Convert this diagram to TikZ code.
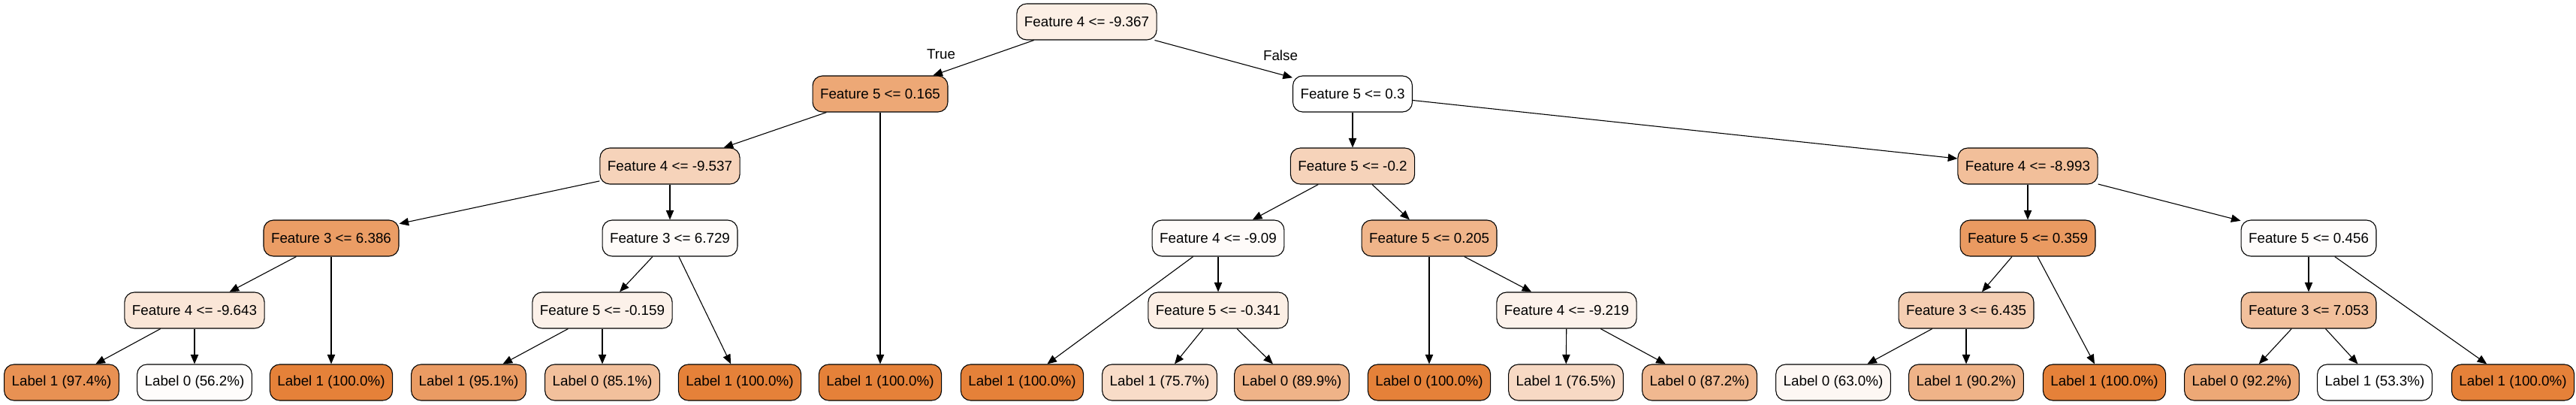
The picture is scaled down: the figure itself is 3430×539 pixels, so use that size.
\documentclass[tikz,border=0pt]{standalone}
\usepackage{fontspec}
\setmainfont{Liberation Sans}
\usetikzlibrary{arrows.meta}
\definecolor{gini}{HTML}{E58139}

\begin{document}
\begin{tikzpicture}[x=0.5pt,y=0.5pt,yscale=-1,
    tnode/.style={draw, line width=0.55pt, rounded corners=6.5pt, fill=gini!#1,
      minimum height=24pt, inner xsep=5pt, font=\fontsize{9.4}{11}\selectfont},
    link/.style={line width=0.55pt, -{Triangle[length=6.3pt,width=5.2pt]}},
    lbl/.style={font=\fontsize{9.4}{11}\selectfont},
  ]
  \useasboundingbox (0,0) rectangle (3430,539);
  \node[tnode=13] (n0)  at (1447,29)  {Feature 4 <= -9.367};
  \node[tnode=69] (n1)  at (1172,125) {Feature 5 <= 0.165};
  \node[tnode=35] (n2)  at (892,221)  {Feature 4 <= -9.537};
  \node[tnode=78] (n3)  at (441,317)  {Feature 3 <= 6.386};
  \node[tnode=20] (n4)  at (259,413)  {Feature 4 <= -9.643};
  \node[tnode=87] (n5)  at (82,509)   {Label 1 (97.4\%)};
  \node[tnode=2]  (n6)  at (259,509)  {Label 0 (56.2\%)};
  \node[tnode=100] (n7) at (441,509)  {Label 1 (100.0\%)};
  \node[tnode=3]  (n8)  at (892,317)  {Feature 3 <= 6.729};
  \node[tnode=11] (n9)  at (802,413)  {Feature 5 <= -0.159};
  \node[tnode=79] (n10) at (624,509)  {Label 1 (95.1\%)};
  \node[tnode=50] (n11) at (802,509)  {Label 0 (85.1\%)};
  \node[tnode=100] (n12) at (985,509) {Label 1 (100.0\%)};
  \node[tnode=100] (n13) at (1172,509) {Label 1 (100.0\%)};
  \node[tnode=0]  (n14) at (1801,125) {Feature 5 <= 0.3};
  \node[tnode=35] (n15) at (1801,221) {Feature 5 <= -0.2};
  \node[tnode=3]  (n16) at (1622,317) {Feature 4 <= -9.09};
  \node[tnode=100] (n17) at (1361,509) {Label 1 (100.0\%)};
  \node[tnode=13] (n18) at (1622,413) {Feature 5 <= -0.341};
  \node[tnode=28] (n19) at (1544,509) {Label 1 (75.7\%)};
  \node[tnode=60] (n20) at (1720,509) {Label 0 (89.9\%)};
  \node[tnode=59] (n21) at (1903,317) {Feature 5 <= 0.205};
  \node[tnode=100] (n22) at (1903,509) {Label 0 (100.0\%)};
  \node[tnode=10] (n23) at (2086,413) {Feature 4 <= -9.219};
  \node[tnode=30] (n24) at (2085,509) {Label 1 (76.5\%)};
  \node[tnode=56] (n25) at (2263,509) {Label 0 (87.2\%)};
  \node[tnode=51] (n26) at (2700,221) {Feature 4 <= -8.993};
  \node[tnode=80] (n27) at (2700,317) {Feature 5 <= 0.359};
  \node[tnode=39] (n28) at (2618,413) {Feature 3 <= 6.435};
  \node[tnode=6]  (n29) at (2441,509) {Label 0 (63.0\%)};
  \node[tnode=60] (n30) at (2618,509) {Label 1 (90.2\%)};
  \node[tnode=100] (n31) at (2802,509) {Label 1 (100.0\%)};
  \node[tnode=2]  (n32) at (3074,317) {Feature 5 <= 0.456};
  \node[tnode=50] (n33) at (3074,413) {Feature 3 <= 7.053};
  \node[tnode=69] (n34) at (2985,509) {Label 0 (92.2\%)};
  \node[tnode=0]  (n35) at (3162,509) {Label 1 (53.3\%)};
  \node[tnode=100] (n36) at (3346,509) {Label 1 (100.0\%)};
  \node[lbl] (yes) at (1253,72) {True};
  \node[lbl] (no)  at (1705,74) {False};
  \draw[link] (n0) -- (n1);
  \draw[link] (n0) -- (n14);
  \draw[link] (n1) -- (n2);
  \draw[link] (n1) -- (n13);
  \draw[link] (n2) -- (n3);
  \draw[link] (n2) -- (n8);
  \draw[link] (n3) -- (n4);
  \draw[link] (n3) -- (n7);
  \draw[link] (n4) -- (n5);
  \draw[link] (n4) -- (n6);
  \draw[link] (n8) -- (n9);
  \draw[link] (n8) -- (n12);
  \draw[link] (n9) -- (n10);
  \draw[link] (n9) -- (n11);
  \draw[link] (n14) -- (n15);
  \draw[link] (n14) -- (n26);
  \draw[link] (n15) -- (n16);
  \draw[link] (n15) -- (n21);
  \draw[link] (n16) -- (n17);
  \draw[link] (n16) -- (n18);
  \draw[link] (n18) -- (n19);
  \draw[link] (n18) -- (n20);
  \draw[link] (n21) -- (n22);
  \draw[link] (n21) -- (n23);
  \draw[link] (n23) -- (n24);
  \draw[link] (n23) -- (n25);
  \draw[link] (n26) -- (n27);
  \draw[link] (n26) -- (n32);
  \draw[link] (n27) -- (n28);
  \draw[link] (n27) -- (n31);
  \draw[link] (n28) -- (n29);
  \draw[link] (n28) -- (n30);
  \draw[link] (n32) -- (n33);
  \draw[link] (n32) -- (n36);
  \draw[link] (n33) -- (n34);
  \draw[link] (n33) -- (n35);
\end{tikzpicture}
\end{document}
